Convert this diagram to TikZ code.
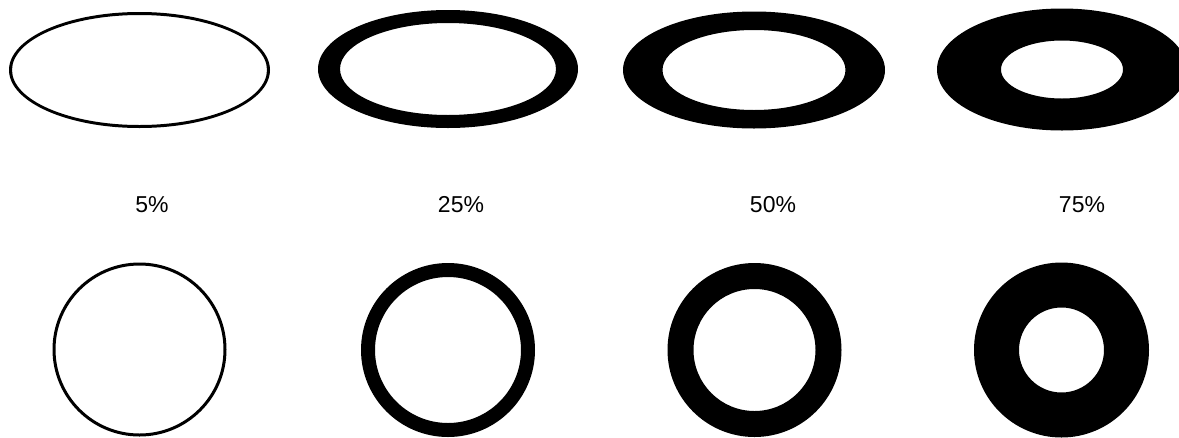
\documentclass[tikz,border=0pt]{standalone}
\usepackage{fontspec}
\setmainfont{Liberation Sans}
\begin{document}
\begin{tikzpicture}[x=1pt,y=-1pt,
  ring/.style={fill=black,even odd rule},
  lbl/.style={font=\fontsize{23}{27}\selectfont,inner sep=0pt}]
\useasboundingbox (0,0) rectangle (1179,437);
% ellipses
\fill[ring] (139.5,70) ellipse (130.5 and 58) (139.5,70) ellipse (127.5 and 55);
\fill[ring] (448,69) ellipse (130 and 59) (448,69) ellipse (108 and 46);
\fill[ring] (754,70) ellipse (131 and 58.5) (754,70) ellipse (91.5 and 40);
\fill[ring] (1062,69.5) ellipse (125 and 61) (1062,69.5) ellipse (61 and 29);
% labels
\node[lbl] (l5)  at (152,205) {5\%};
\node[lbl] (l25) at (461,205) {25\%};
\node[lbl] (l50) at (773,205) {50\%};
\node[lbl] (l75) at (1082,205) {75\%};
% circles
\fill[ring] (139.5,349.5) circle (87) (139.5,349.5) circle (84);
\fill[ring] (448,350) circle (87) (448,350) circle (73);
\fill[ring] (754.5,350) circle (87) (754.5,350) circle (61);
\fill[ring] (1061.5,350) circle (87.5) (1061.5,350) circle (42.5);
\end{tikzpicture}
\end{document}
